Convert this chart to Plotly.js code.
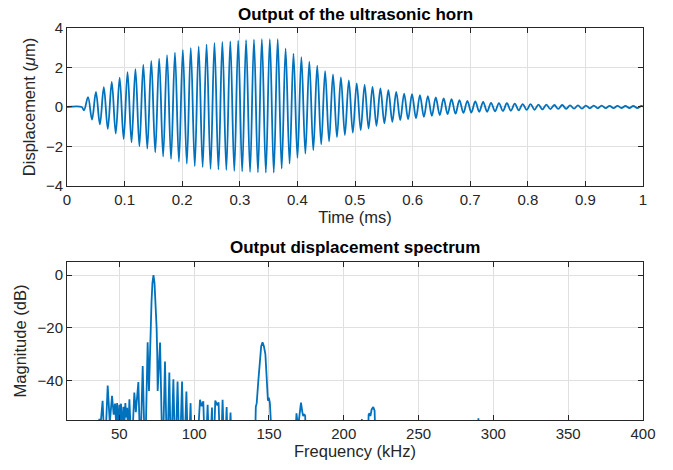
<!DOCTYPE html>
<html>
<head>
<meta charset="utf-8">
<script src="https://cdn.plot.ly/plotly-3.0.1.min.js"></script>
<style>
  html, body { margin: 0; padding: 0; background: #ffffff; }
  #chart { width: 673px; height: 470px; }
</style>
</head>
<body>
<div id="chart"></div>
<script>
// ---- Top panel: extremes of the horn output (time in ms, displacement in µm)
const timeMs = [
  0, 0.0255, 0.0295,
  0.0365, 0.0434, 0.0502, 0.0571, 0.0639, 0.0708, 0.0777, 0.0846, 0.0914, 0.0983,
  0.1051, 0.1120, 0.1188, 0.1257, 0.1325, 0.1394, 0.1463, 0.1532, 0.1600, 0.1669,
  0.1737, 0.1806, 0.1874, 0.1943, 0.2011, 0.2080, 0.2149, 0.2218, 0.2286, 0.2355,
  0.2423, 0.2492, 0.2560, 0.2629, 0.2697, 0.2766, 0.2835, 0.2904, 0.2972, 0.3041,
  0.3109, 0.3178, 0.3246, 0.3315, 0.3383, 0.3452, 0.3521, 0.3590, 0.3658, 0.3727,
  0.3795, 0.3864, 0.3932, 0.4001, 0.4069, 0.4138, 0.4207, 0.4276, 0.4344, 0.4413,
  0.4481, 0.4550, 0.4618, 0.4687, 0.4755, 0.4824, 0.4893, 0.4962, 0.5030, 0.5099,
  0.5167, 0.5236, 0.5304, 0.5373, 0.5441, 0.5510, 0.5579, 0.5648, 0.5716, 0.5785,
  0.5853, 0.5922, 0.5990, 0.6059, 0.6127, 0.6196, 0.6265, 0.6334, 0.6402, 0.6471,
  0.6539, 0.6608, 0.6676, 0.6745, 0.6813, 0.6882, 0.6951, 0.7020, 0.7088, 0.7157,
  0.7225, 0.7294, 0.7362, 0.7431, 0.7499, 0.7568, 0.7637, 0.7706, 0.7774, 0.7843,
  0.7911, 0.7980, 0.8048, 0.8117, 0.8185, 0.8254, 0.8323, 0.8392, 0.8460, 0.8529,
  0.8597, 0.8666, 0.8734, 0.8803, 0.8871, 0.8940, 0.9009, 0.9078, 0.9146, 0.9215,
  0.9283, 0.9352, 0.9420, 0.9489, 0.9557, 0.9626, 0.9695, 0.9764, 0.9832, 0.9901,
  0.9969, 1.0000
];
const displacementUm = [
  0, 0, -0.17,
  0.50, -0.64, 0.76, -0.88, 1.00, -1.11, 1.27, -1.35, 1.49, -1.62,
  1.77, -1.79, 1.92, -1.99, 2.14, -2.11, 2.33, -2.30, 2.45, -2.51,
  2.63, -2.63, 2.75, -2.77, 2.89, -2.87, 2.99, -3.00, 3.07, -3.05,
  3.17, -3.14, 3.24, -3.16, 3.29, -3.19, 3.32, -3.24, 3.36, -3.26,
  3.38, -3.29, 3.41, -3.31, 3.43, -3.32, 3.43, -3.32, 3.43, -3.12,
  2.97, -2.87, 2.70, -2.58, 2.53, -2.36, 2.30, -2.19, 2.09, -1.89,
  1.82, -1.74, 1.65, -1.53, 1.50, -1.42, 1.35, -1.30, 1.20, -1.17,
  1.12, -1.09, 1.02, -0.95, 0.94, -0.82, 0.85, -0.75, 0.77, -0.67,
  0.68, -0.62, 0.65, -0.57, 0.60, -0.50, 0.55, -0.45, 0.48, -0.41,
  0.43, -0.36, 0.40, -0.34, 0.35, -0.30, 0.31, -0.28, 0.28, -0.24,
  0.26, -0.24, 0.21, -0.22, 0.20, -0.20, 0.19, -0.19, 0.17, -0.17,
  0.15, -0.15, 0.14, -0.14, 0.12, -0.12, 0.12, -0.11, 0.10, -0.10,
  0.10, -0.09, 0.08, -0.08, 0.08, -0.08, 0.07, -0.07, 0.07, -0.07,
  0.07, -0.06, 0.06, -0.06, 0.06, -0.05, 0.05, -0.05, 0.05, -0.05,
  0.05, 0.03
];

// ---- Bottom panel: spectrum lobes (kHz, dB); values below -55 dB fall off the axis
const freqKHz = [
  35.5, 36.6, 37.4, 38.8, 40.3, 42.2, 43.6, 45.1, 46.2, 47.1, 47.8, 48.5, 49.3, 50.0, 50.5,
  51.1, 51.9, 52.7, 53.4, 54.0, 54.6, 55.2, 55.9, 56.7, 58.2, 60.0, 61.0, 62.7, 64.0, 65.6,
  67.2, 68.9, 69.8, 70.3, 70.9, 71.5, 72.1, 72.8, 73.5, 74.1, 74.9, 75.3, 75.6, 77.2, 78.9,
  80.5, 81.9, 83.4, 84.5, 86.1, 87.4, 88.9, 90.3, 91.9, 93.2, 94.8, 96.1, 97.6, 98.6,
  101.5, 102.8, 103.9, 105.0, 106.1, 107.4, 109.0, 110.3, 111.9, 112.8, 114.1, 115.5, 116.3,
  117.7, 119.0, 120.3, 121.7, 122.8, 124.3, 125.5,
  140.4, 141.2, 141.8, 142.9, 144.1, 144.8, 145.7, 146.6, 147.6, 148.7, 149.3, 149.9, 150.6,
  151.3, 151.9,
  166.6, 168.4, 169.4, 170.5, 171.4, 172.3, 172.9, 173.6, 174.2, 175.2,
  211.6, 212.1, 212.6,
  215.8, 216.6, 217.2, 217.8, 218.6, 219.7, 220.6, 221.6,
  289.4, 290.0, 290.6,
  400
];
const magnitudeDB = [
  -75, -54.5, -57, -47.7, -68, -41.9, -56, -45.8, -53, -48.8, -56, -48.6, -60, -49.2, -55,
  -48.8, -60, -50.0, -56, -48.6, -54, -50.4, -62, -47.1, -68, -44.6, -52, -40.6, -68, -34.5,
  -72, -25.5, -44.0, -30, -20, -10, -3, 0, -3, -10, -20, -30, -44.0, -25.6, -72,
  -32.8, -72, -37.0, -72, -39.5, -72, -40.4, -72, -40.4, -72, -44.2, -72, -48.6, -72,
  -72, -56, -47.3, -49.8, -47.9, -72, -49.2, -72, -50.3, -72, -47.6, -49.5, -48.3,
  -72, -47.3, -72, -50.1, -72, -52.2, -72,
  -72, -50, -48.6, -40, -30, -27, -25.5, -27, -30, -40, -47.7, -46.5, -48.5,
  -56, -72,
  -72, -52.5, -58, -51, -48.4, -52, -53.5, -52.8, -53.5, -72,
  -72, -54.6, -72,
  -72, -53, -52.4, -53.5, -51, -50.1, -51.5, -72,
  -72, -54.3, -72,
  -72
];

const timeTicks = [0, 0.1, 0.2, 0.3, 0.4, 0.5, 0.6, 0.7, 0.8, 0.9, 1];
const timeTickText = ['0', '0.1', '0.2', '0.3', '0.4', '0.5', '0.6', '0.7', '0.8', '0.9', '1'];
const dispTicks = [-4, -2, 0, 2, 4];
const freqTicks = [50, 100, 150, 200, 250, 300, 350, 400];
const dbTicks = [-40, -20, 0];

const LINE = '#0072BD';
const AX = '#262626';
const GRID = '#e0e0e0';
const FONT = 'Liberation Sans, Arial, Helvetica, sans-serif';
const TICK_SIZE = 15;
const LABEL_SIZE = 16.5;
const TITLE_SIZE = 17;

const traces = [
  {
    x: timeMs, y: displacementUm, xaxis: 'x', yaxis: 'y',
    type: 'scatter', mode: 'lines',
    line: { color: LINE, width: 1.8, shape: 'spline', smoothing: 1 },
    hoverinfo: 'skip'
  },
  {
    x: freqKHz, y: magnitudeDB, xaxis: 'x2', yaxis: 'y2',
    type: 'scatter', mode: 'lines',
    line: { color: LINE, width: 1.8 },
    hoverinfo: 'skip'
  }
];

function axisBase() {
  return {
    showline: true, linecolor: AX, linewidth: 1, mirror: 'allticks',
    ticks: 'inside', ticklen: 5, tickwidth: 1, tickcolor: AX,
    showgrid: true, gridcolor: GRID, gridwidth: 1,
    zeroline: false,
    tickfont: { family: FONT, size: TICK_SIZE, color: AX },
    fixedrange: true
  };
}

const layout = {
  width: 673, height: 470,
  margin: { l: 67, r: 30, t: 28, b: 50, pad: 0 },
  paper_bgcolor: '#ffffff', plot_bgcolor: '#ffffff',
  showlegend: false,
  font: { family: FONT, color: AX },
  xaxis: Object.assign(axisBase(), {
    domain: [0, 1], anchor: 'y', range: [0, 1],
    tickmode: 'array', tickvals: timeTicks, ticktext: timeTickText,
    title: { text: 'Time (ms)', font: { family: FONT, size: LABEL_SIZE, color: AX }, standoff: 3 }
  }),
  yaxis: Object.assign(axisBase(), {
    domain: [0.597, 1], anchor: 'x', range: [-4, 4],
    tickmode: 'array', tickvals: dispTicks,
    title: { text: 'Displacement (<i>μ</i>m)', font: { family: FONT, size: LABEL_SIZE, color: AX }, standoff: 6 }
  }),
  xaxis2: Object.assign(axisBase(), {
    domain: [0, 1], anchor: 'y2', range: [15, 400],
    tickmode: 'array', tickvals: freqTicks,
    title: { text: 'Frequency (kHz)', font: { family: FONT, size: LABEL_SIZE, color: AX }, standoff: 3 }
  }),
  yaxis2: Object.assign(axisBase(), {
    domain: [0, 0.403], anchor: 'x2', range: [-55, 5],
    tickmode: 'array', tickvals: dbTicks,
    title: { text: 'Magnitude (dB)', font: { family: FONT, size: LABEL_SIZE, color: AX }, standoff: 6 }
  }),
  annotations: [
    {
      text: '<b>Output of the ultrasonic horn</b>', xref: 'paper', yref: 'paper',
      x: 0.5, y: 1.0357, xanchor: 'center', yanchor: 'middle', showarrow: false,
      font: { family: FONT, size: TITLE_SIZE, color: '#000000' }
    },
    {
      text: '<b>Output displacement spectrum</b>', xref: 'paper', yref: 'paper',
      x: 0.5, y: 0.441, xanchor: 'center', yanchor: 'middle', showarrow: false,
      font: { family: FONT, size: TITLE_SIZE, color: '#000000' }
    }
  ]
};

Plotly.newPlot('chart', traces, layout, { staticPlot: true, displayModeBar: false });
</script>
</body>
</html>
